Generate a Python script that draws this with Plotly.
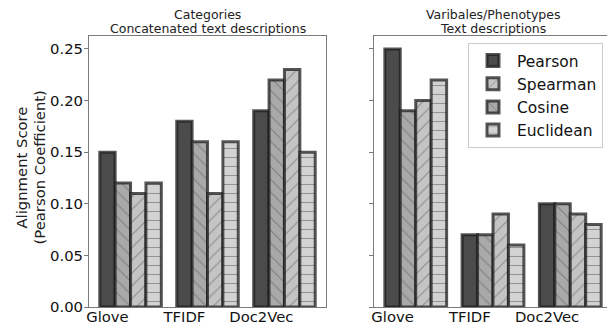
import plotly.graph_objects as go

categories = ["Glove", "TFIDF", "Doc2Vec"]
group_pos = [0, 1, 2]

# left panel: Categories / concatenated text descriptions (bar order as drawn)
left_pearson = [0.15, 0.18, 0.19]
left_cosine = [0.12, 0.16, 0.22]
left_spearman = [0.11, 0.11, 0.23]
left_euclid = [0.12, 0.16, 0.15]

# right panel: Variables/Phenotypes text descriptions
right_pearson = [0.25, 0.07, 0.10]
right_cosine = [0.19, 0.07, 0.10]
right_spearman = [0.20, 0.09, 0.09]
right_euclid = [0.22, 0.06, 0.08]

y_ticks = [0.00, 0.05, 0.10, 0.15, 0.20, 0.25]
y_ticktext = ["0.00", "0.05", "0.10", "0.15", "0.20", "0.25"]

series = [
    # name, left, right, fill, hatch, legendrank, slot
    ("Pearson", left_pearson, right_pearson, "#4b4b4b", "", 1, 0),
    ("Cosine", left_cosine, right_cosine, "#a9a9a9", "\\", 3, 1),
    ("Spearman", left_spearman, right_spearman, "#c4c4c4", "/", 2, 2),
    ("Euclidean", left_euclid, right_euclid, "#d3d3d3", "-", 4, 3),
]

# the page places the figure 8px in from the top-left corner
W, H, OFF = 607, 322, 8


def px(x):
    return (x - OFF) / W


def py(y):
    return 1 - (y - OFF) / H


BW = 0.2
FONT = "DejaVu Sans"
fig = go.Figure()
for name, lv, rv, fill, hatch, rank, slot in series:
    for vals, xa, ya, show in ((lv, "x", "y", True), (rv, "x2", "y2", False)):
        fig.add_trace(go.Bar(
            x=group_pos, y=vals, xaxis=xa, yaxis=ya,
            name=name, showlegend=show, legendrank=rank,
            width=BW, offset=slot * BW - BW / 2,
            marker=dict(
                color=fill,
                line=dict(color="rgba(30,30,30,0.75)", width=3),
                pattern=dict(shape=hatch, fgcolor="#555555", bgcolor=fill,
                             size=9, solidity=0.12, fillmode="overlay"),
            ),
            hoverinfo="skip",
        ))

yd = [py(307), py(36)]
line_common = dict(showgrid=False, zeroline=False, showline=True, mirror=True,
                   linecolor="#7a7a7a", linewidth=1, automargin=False,
                   tickfont=dict(family=FONT, size=14.8, color="#111"))
title_font = dict(family=FONT, size=12.5, color="#222")
ytitle_font = dict(family=FONT, size=14.8, color="#222")


def ann(text, x, y, font, angle=0):
    return dict(text=text, x=x, y=y, xref="paper", yref="paper", xanchor="center",
                yanchor="middle", showarrow=False, textangle=angle, font=font)


fig.update_layout(
    width=W, height=H,
    margin=dict(l=0, r=0, t=0, b=0, autoexpand=False),
    paper_bgcolor="white", plot_bgcolor="white",
    barmode="overlay",
    font=dict(family=FONT, color="#111"),
    xaxis=dict(domain=[px(89), px(326)], range=[-0.24, 2.84], ticklabelstandoff=-4,
               tickvals=group_pos, ticktext=categories, ticks="", **line_common),
    xaxis2=dict(domain=[px(374), px(612)], range=[-0.24, 2.84], anchor="y2", ticklabelstandoff=-4,
                tickvals=group_pos, ticktext=categories, ticks="", **line_common),
    yaxis=dict(domain=yd, range=[0, 0.2625], tickvals=y_ticks, ticktext=y_ticktext,
               ticks="outside", ticklen=4, tickcolor="#7a7a7a", ticklabelstandoff=-2, **line_common),
    yaxis2=dict(domain=yd, range=[0, 0.2625], anchor="x2", tickvals=y_ticks,
                showticklabels=False, matches="y",
                ticks="outside", ticklen=4, tickcolor="#7a7a7a", **line_common),
    legend=dict(x=px(468), y=py(43), xanchor="left", yanchor="top",
                bgcolor="white", bordercolor="#cccccc", borderwidth=1,
                font=dict(family=FONT, size=15.5, color="#111"),
                tracegroupgap=0, itemwidth=38),
    annotations=[
        ann("Categories", px((89 + 326) / 2), py(15), title_font),
        ann("Concatenated text descriptions", px((89 + 326) / 2), py(28), title_font),
        ann("Varibales/Phenotypes", px((374 + 612) / 2), py(15), title_font),
        ann("Text descriptions", px((374 + 612) / 2), py(28), title_font),
        ann("Alignment Score", px(21), py(167.5), ytitle_font, -90),
        ann("(Pearson Coefficient)", px(39), py(167.5), ytitle_font, -90),
    ],
)
fig.write_html("out.html")
